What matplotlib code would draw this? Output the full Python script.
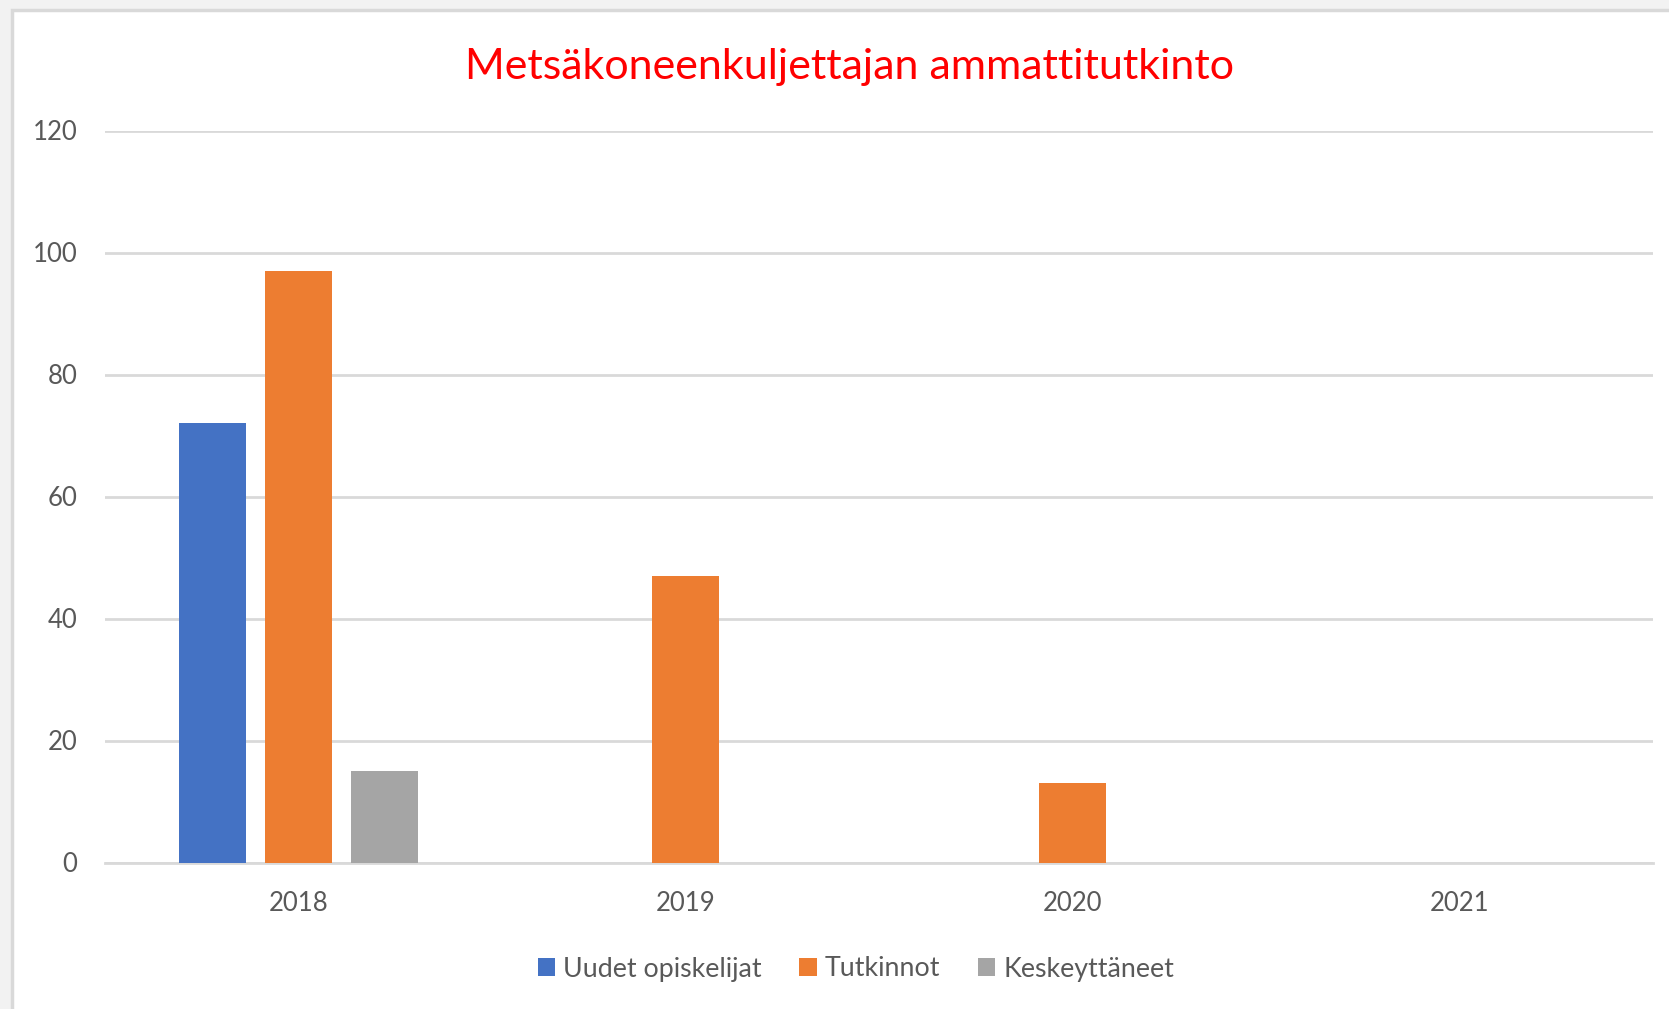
import matplotlib.pyplot as plt
from matplotlib.patches import Rectangle
import numpy as np

plt.rcParams['font.family'] = ['Lato', 'DejaVu Sans']

years = ['2018', '2019', '2020', '2021']
uudet = [72, 0, 0, 0]
tutkinnot = [97, 47, 13, 0]
keskeyttaneet = [15, 0, 0, 0]
series_names = ['Uudet opiskelijat', 'Tutkinnot', 'Keskeyttäneet']
colors = ['#4472C4', '#ED7D31', '#A5A5A5']

W, H = 1669, 1009
fig = plt.figure(figsize=(W / 100, H / 100), dpi=100, facecolor='#f2f2f2')

# white chart area with light border on left/top (cropped screenshot)
bg = Rectangle((11.5 / W, -0.05), 1.1, 1.05 - 9.5 / H, transform=fig.transFigure,
               facecolor='white', edgecolor='#d9d9d9', linewidth=2.5, zorder=-10)
fig.patches.append(bg)

ax = fig.add_axes([105 / W, 1 - 862.5 / H, 1548 / W, 732 / H])
ax.set_facecolor('none')

x = np.arange(len(years))
step = 0.2225
width = 0.173
for i, (vals, name, c) in enumerate(zip([uudet, tutkinnot, keskeyttaneet], series_names, colors)):
    v = np.array(vals, dtype=float)
    ax.bar(x + (i - 1) * step, np.where(v > 0, v, np.nan), width, color=c, label=name, zorder=3)

ax.set_xlim(-0.5, 3.5)
ax.set_ylim(0, 120)
ax.set_yticks(range(0, 121, 20))
ax.set_xticks(x)
ax.set_xticklabels(years)
ax.grid(axis='y', color='#d9d9d9', linewidth=2, zorder=1)
ax.set_axisbelow(True)
for s in ['top', 'right', 'left']:
    ax.spines[s].set_visible(False)
ax.spines['bottom'].set_color('#d9d9d9')
ax.spines['bottom'].set_linewidth(2)
ax.tick_params(axis='both', length=0, labelsize=18.5, labelcolor='#595959')
ax.tick_params(axis='y', pad=20)
ax.tick_params(axis='x', pad=20.5)

fig.text(849 / W, 1 - 67 / H, 'Metsäkoneenkuljettajan ammattitutkinto',
         color='#FF0000', fontsize=31, ha='center', va='center')

handles, labels = ax.get_legend_handles_labels()
fig.legend(handles, labels, loc='center', bbox_to_anchor=(856 / W, 1 - 969 / H),
           ncol=3, frameon=False, fontsize=19.3, labelcolor='#595959',
           handlelength=0.65, handleheight=0.65, handletextpad=0.3, columnspacing=1.4)

plt.savefig('out.png', dpi=100, facecolor=fig.get_facecolor())
